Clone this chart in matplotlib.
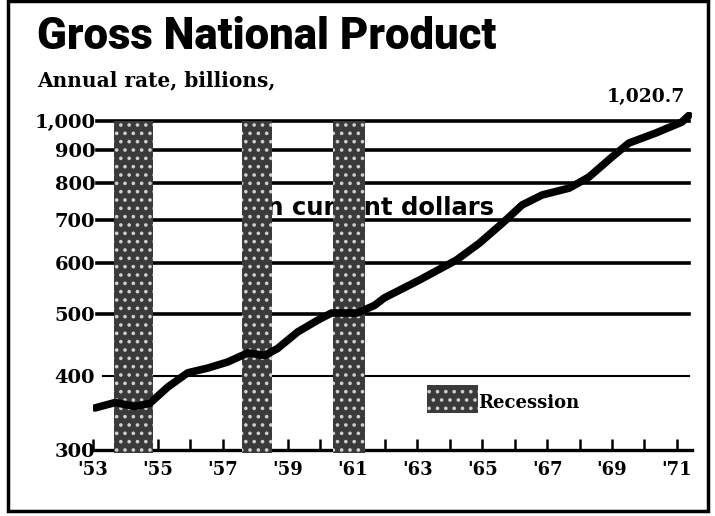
import matplotlib
matplotlib.use("Agg")
import matplotlib.pyplot as plt
from matplotlib.patches import Rectangle
import numpy as np

# ---- data ----
years = [1953.06, 1953.68, 1954.29, 1954.75, 1955.31, 1955.92, 1956.54, 1957.15,
         1957.77, 1958.29, 1958.69, 1959.31, 1959.92, 1960.35, 1961.15, 1961.68,
         1961.98, 1963.06, 1964.20, 1964.91, 1965.62, 1966.23, 1966.85, 1967.68,
         1968.29, 1969.00, 1969.52, 1970.35, 1971.15, 1971.37]
gnp = [357, 364, 359, 363, 385, 405, 412, 421,
       435, 431, 442, 469, 489, 502, 502, 516,
       530, 565, 607, 645, 693, 740, 767, 786,
       818, 879, 924, 958, 996, 1020.7]
recessions = [(1953.65, 1954.85), (1957.6, 1958.52), (1960.4, 1961.38)]
grid_values = [1000, 900, 800, 700, 600, 500, 400]
ytick_labels = ["1,000", "900", "800", "700", "600", "500", "400", "300"]
xtick_years = list(range(1953, 1972, 2))
xtick_labels = ["'53", "'55", "'57", "'59", "'61", "'63", "'65", "'67", "'69", "'71"]
title = "Gross National Product"
subtitle = "Annual rate, billions,"
series_label = "in current dollars"
last_label = "1,020.7"

W, H = 715, 516
fig = plt.figure(figsize=(W / 100, H / 100), dpi=100)
fig.patch.set_facecolor("white")

ax_left, ax_right = 93 / W, 691.5 / W
ax_bottom, ax_top = 1 - 450 / H, 1 - 112 / H
ax = fig.add_axes([ax_left, ax_bottom, ax_right - ax_left, ax_top - ax_bottom])
ax.set_yscale("log")
ybot, ytop = 307, 1033
ax.set_ylim(ybot, ytop)
ax.set_xlim(1953, 1971.45)

for s in ["top", "right", "left"]:
    ax.spines[s].set_visible(False)
ax.spines["bottom"].set_linewidth(2.4)

# gridlines
for v in grid_values:
    if v == 400:
        ax.axhline(v, xmin=0.017, xmax=0.995, color="black", lw=1.5, zorder=1)
    else:
        ax.axhline(v, xmin=0.007, xmax=0.995, color="black", lw=2.6, zorder=1)

# series label (partly hidden by a recession band)
ax.text(1958.1, 731, series_label, fontsize=17.5, fontweight="bold",
        family="DejaVu Sans", ha="left", va="center", zorder=2)

# recession bands
plt.rcParams["hatch.linewidth"] = 1.4
for x0, x1 in recessions:
    ax.fill_between([x0, x1], ybot * 0.99, 1000, facecolor="#3a3a3a",
                    edgecolor="#cfcfcf", hatch="..", lw=0, zorder=3, clip_on=False)

# data line
ax.plot(years, gnp, color="black", lw=5.5, solid_capstyle="round",
        solid_joinstyle="round", zorder=5)
ax.annotate(last_label, (years[-1], gnp[-1]), xytext=(-3, 7),
            textcoords="offset points", ha="right", va="bottom",
            fontsize=13.5, fontweight="bold", family="DejaVu Serif",
            annotation_clip=False)

# y ticks
ax.set_yticks(grid_values + [ybot])
ax.set_yticklabels(ytick_labels)
ax.yaxis.set_minor_locator(matplotlib.ticker.NullLocator())
ax.tick_params(axis="y", length=0, pad=-1.5)
for t in ax.get_yticklabels():
    t.set_fontsize(14)
    t.set_fontweight("bold")
    t.set_family("DejaVu Serif")

# x ticks
ax.set_xticks(xtick_years)
ax.set_xticklabels(xtick_labels)
ax.set_xticks(list(range(1953, 1972)), minor=True)
ax.tick_params(axis="x", which="both", direction="in", length=8, width=1.8, pad=8)
for t in ax.get_xticklabels():
    t.set_fontsize(13)
    t.set_fontweight("bold")
    t.set_family("DejaVu Serif")

# legend box
ax.add_patch(Rectangle((0.558, 0.11), 0.085, 0.083, transform=ax.transAxes,
                       facecolor="#3a3a3a", edgecolor="#cfcfcf", hatch="..",
                       lw=0, zorder=3))
ax.text(0.643, 0.139, "Recession", transform=ax.transAxes, fontsize=13,
        fontweight="bold", family="DejaVu Serif", va="center", ha="left")

# titles
fig.text(37 / W, 1 - 37 / H, title, fontsize=31.5, fontweight="black",
         family=["Roboto", "DejaVu Sans"], va="center", ha="left")
fig.text(37 / W, 1 - 80 / H, subtitle, fontsize=14.5, fontweight="bold",
         family="DejaVu Serif", va="center", ha="left")

# outer frame
fig.add_artist(Rectangle((8 / W, 5 / H), 700 / W, 510 / H, transform=fig.transFigure,
                         fill=False, edgecolor="black", lw=2.5))

fig.savefig("out.png", dpi=100, facecolor="white")
